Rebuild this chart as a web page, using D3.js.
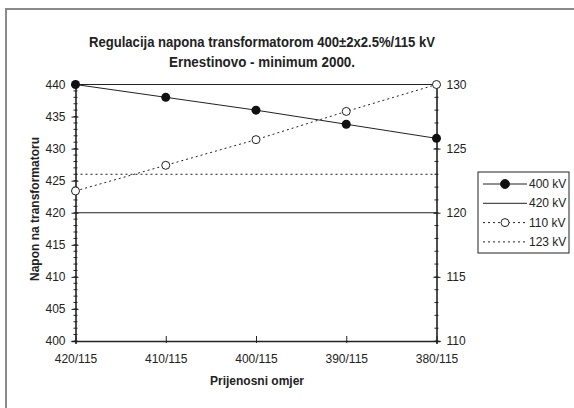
<!DOCTYPE html>
<html>
<head>
<meta charset="utf-8">
<script src="https://cdn.jsdelivr.net/npm/d3@7"></script>
<style>
  body { margin: 0; background: #fff; }
  text { font-family: "Liberation Sans", Arial, sans-serif; fill: #222; }
</style>
</head>
<body>
<svg width="574" height="408"></svg>
<script>
const categories = ["420/115", "410/115", "400/115", "390/115", "380/115"];
const kv400 = [440, 438, 436, 433.8, 431.6];
const kv110 = [121.7, 123.7, 125.7, 127.9, 130];
const kv420 = 420;
const kv123 = 123;
const leftTicks = [400, 405, 410, 415, 420, 425, 430, 435, 440];
const rightTicks = [110, 115, 120, 125, 130];

const svg = d3.select("svg");

// outer chart frame (runs off right/bottom edge)
svg.append("rect")
  .attr("x", 6).attr("y", 9)
  .attr("width", 620).attr("height", 460)
  .attr("fill", "none")
  .attr("stroke", "#8a8a8a")
  .attr("stroke-width", 2);

const x = d3.scalePoint().domain(categories).range([75.5, 436.5]);
const yL = d3.scaleLinear().domain([400, 440]).range([341, 84.5]);
const yR = d3.scaleLinear().domain([110, 130]).range([341, 84.5]);

// top border of plot area
svg.append("line")
  .attr("x1", x.range()[0]).attr("x2", x.range()[1])
  .attr("y1", yL(440)).attr("y2", yL(440))
  .attr("stroke", "#222").attr("stroke-width", 1);

// 420 kV and 123 kV reference lines
svg.append("line")
  .attr("x1", x.range()[0]).attr("x2", x.range()[1])
  .attr("y1", yL(kv420)).attr("y2", yL(kv420))
  .attr("stroke", "#222").attr("stroke-width", 1);
svg.append("line")
  .attr("x1", x.range()[0]).attr("x2", x.range()[1])
  .attr("y1", yR(kv123)).attr("y2", yR(kv123))
  .attr("stroke", "#222").attr("stroke-width", 1)
  .attr("stroke-dasharray", "2,3");

// axes
function minorTicks(g, scale, lo, hi, side) {
  for (let v = lo; v <= hi; v++) {
    g.append("line")
      .attr("x1", side * -2).attr("x2", side * 2)
      .attr("y1", scale(v)).attr("y2", scale(v))
      .attr("stroke", "#222");
  }
}

const gL = svg.append("g").attr("transform", `translate(${x.range()[0]},0)`);
gL.call(d3.axisLeft(yL).tickValues(leftTicks).tickSize(4).tickPadding(6));
minorTicks(gL, yL, 400, 440, 1);
gL.selectAll(".tick line").attr("x2", -4).attr("x1", 3);

const gR = svg.append("g").attr("transform", `translate(${x.range()[1]},0)`);
gR.call(d3.axisRight(yR).tickValues(rightTicks).tickSize(4).tickPadding(6));
minorTicks(gR, yR, 110, 130, -1);
gR.selectAll(".tick line").attr("x1", -3).attr("x2", 4);

const gB = svg.append("g").attr("transform", `translate(0,${yL(400)})`);
gB.call(d3.axisBottom(x).tickSize(3).tickPadding(10));
gB.selectAll(".tick line").attr("y1", -5).attr("y2", 2);

[gL, gR, gB].forEach(g => {
  g.select(".domain").attr("stroke", "#222").attr("stroke-width", 1.6);
  g.selectAll(".tick line").attr("stroke", "#222");
  g.selectAll(".tick text").attr("font-size", 12).attr("fill", "#222")
    .attr("font-family", "Liberation Sans, Arial, sans-serif");
});

// 400 kV series
svg.append("path")
  .datum(kv400)
  .attr("fill", "none").attr("stroke", "#222").attr("stroke-width", 1)
  .attr("d", d3.line().x((d, i) => x(categories[i])).y(d => yL(d)));
svg.selectAll(".p400").data(kv400).join("circle")
  .attr("cx", (d, i) => x(categories[i])).attr("cy", d => yL(d))
  .attr("r", 4.5).attr("fill", "#111");

// 110 kV series
svg.append("path")
  .datum(kv110)
  .attr("fill", "none").attr("stroke", "#222").attr("stroke-width", 1)
  .attr("stroke-dasharray", "2,3")
  .attr("d", d3.line().x((d, i) => x(categories[i])).y(d => yR(d)));
svg.selectAll(".p110").data(kv110).join("circle")
  .attr("cx", (d, i) => x(categories[i])).attr("cy", d => yR(d))
  .attr("r", 4).attr("fill", "#fff").attr("stroke", "#222").attr("stroke-width", 1);

// titles
svg.append("text").text("Regulacija napona transformatorom 400±2x2.5%/115 kV")
  .attr("x", 262).attr("y", 47).attr("text-anchor", "middle")
  .attr("font-size", 14).attr("font-weight", "bold")
  .attr("textLength", 346).attr("lengthAdjust", "spacingAndGlyphs");
svg.append("text").text("Ernestinovo - minimum 2000.")
  .attr("x", 262).attr("y", 67).attr("text-anchor", "middle")
  .attr("font-size", 14).attr("font-weight", "bold")
  .attr("textLength", 186).attr("lengthAdjust", "spacingAndGlyphs");
svg.append("text").text("Napon na transformatoru")
  .attr("transform", "translate(39,209) rotate(-90)")
  .attr("text-anchor", "middle")
  .attr("font-size", 12).attr("font-weight", "bold");
svg.append("text").text("Prijenosni omjer")
  .attr("x", 257).attr("y", 385).attr("text-anchor", "middle")
  .attr("font-size", 12).attr("font-weight", "bold");

// legend
const legendItems = [
  { label: "400 kV", dash: null, marker: "filled" },
  { label: "420 kV", dash: null, marker: null },
  { label: "110 kV", dash: "2,3", marker: "open" },
  { label: "123 kV", dash: "2,3", marker: null },
];
const lg = svg.append("g").attr("transform", "translate(478,172)");
lg.append("rect").attr("width", 91).attr("height", 81)
  .attr("fill", "#fff").attr("stroke", "#222").attr("stroke-width", 1);
legendItems.forEach((d, i) => {
  const yy = 12 + i * 19.3;
  lg.append("line").attr("x1", 5).attr("x2", 49).attr("y1", yy).attr("y2", yy)
    .attr("stroke", "#222").attr("stroke-dasharray", d.dash);
  if (d.marker) {
    lg.append("circle").attr("cx", 27).attr("cy", yy)
      .attr("r", d.marker === "filled" ? 4.5 : 4)
      .attr("fill", d.marker === "filled" ? "#111" : "#fff")
      .attr("stroke", "#222");
  }
  lg.append("text").text(d.label).attr("x", 51).attr("y", yy + 4)
    .attr("font-size", 12);
});
</script>
</body>
</html>
